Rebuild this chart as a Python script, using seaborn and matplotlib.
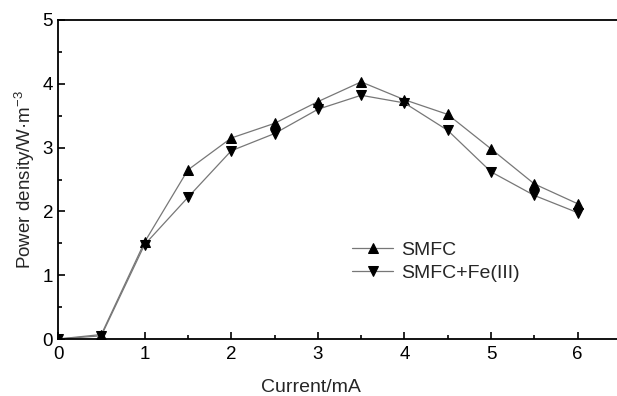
import matplotlib
matplotlib.use("Agg")
import matplotlib.pyplot as plt
import seaborn as sns
import pandas as pd
from matplotlib.ticker import MultipleLocator

current = [0, 0.5, 1, 1.5, 2, 2.5, 3, 3.5, 4, 4.5, 5, 5.5, 6]
smfc = [0.0, 0.07, 1.52, 2.65, 3.15, 3.38, 3.72, 4.03, 3.75, 3.52, 2.98, 2.43, 2.12]
smfc_fe = [0.0, 0.05, 1.48, 2.22, 2.95, 3.22, 3.60, 3.82, 3.70, 3.27, 2.62, 2.25, 1.98]
series_names = ["SMFC", "SMFC+Fe(III)"]

df = pd.DataFrame({
    "current": current * 2,
    "power": smfc + smfc_fe,
    "series": [series_names[0]] * len(current) + [series_names[1]] * len(current),
})

sns.set_style("ticks")
plt.rcParams['font.family'] = ['Liberation Sans', 'DejaVu Sans']
plt.rcParams['mathtext.fontset'] = 'custom'
plt.rcParams['mathtext.rm'] = 'Liberation Sans'

fig = plt.figure(figsize=(6.17, 3.96), dpi=100)
ax = fig.add_axes([58/617, 1 - 339/396, (617.5 - 58)/617, (339 - 20)/396])

sns.lineplot(data=df, x="current", y="power", hue="series", style="series",
             markers={"SMFC": "^", "SMFC+Fe(III)": "v"}, dashes=False,
             palette={"SMFC": "#777777", "SMFC+Fe(III)": "#777777"},
             markersize=7.5, linewidth=0.9, ax=ax, legend=False)

lines = ax.get_lines()
for ln in lines:
    ln.set_markerfacecolor("black")
    ln.set_markeredgecolor("black")

ax.legend(lines[:2], series_names, loc="upper left", bbox_to_anchor=(0.512, 0.33),
          frameon=False, fontsize=14, handlelength=2.1, handletextpad=0.4,
          labelspacing=0.25, borderaxespad=0)

ax.set_xlim(0, 6.46)
ax.set_ylim(0, 5)
ax.xaxis.set_major_locator(MultipleLocator(1))
ax.xaxis.set_minor_locator(MultipleLocator(0.5))
ax.yaxis.set_major_locator(MultipleLocator(1))
ax.yaxis.set_minor_locator(MultipleLocator(0.5))
ax.tick_params(which="both", direction="in", labelsize=13.5, width=1.2, colors="black")
ax.tick_params(which="major", length=5)
ax.tick_params(which="minor", length=3)
ax.tick_params(axis="x", pad=5)
for s in ax.spines.values():
    s.set_linewidth(1.3)
    s.set_color("black")

ax.set_xlabel("Current/mA", fontsize=14)
ax.xaxis.set_label_coords(0.452, -0.125)
ax.set_ylabel("Power density/W·m$^{-3}$", fontsize=13.5, labelpad=4)

fig.savefig("out.png", dpi=100)
